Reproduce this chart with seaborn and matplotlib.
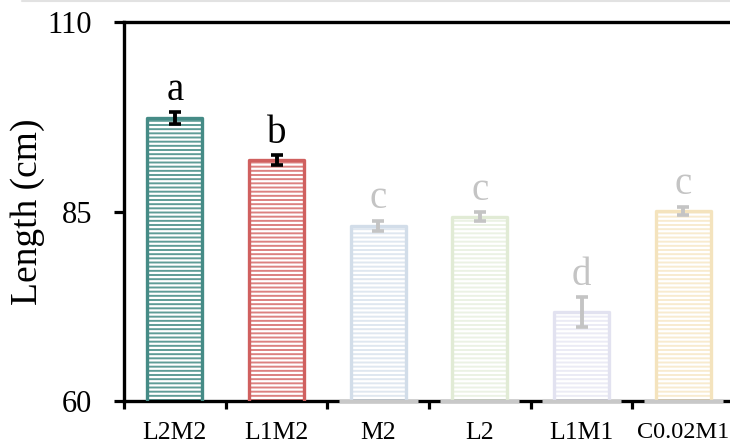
import matplotlib
matplotlib.use("Agg")
import matplotlib.pyplot as plt
import seaborn as sns
import numpy as np
from matplotlib.lines import Line2D

# ---- data ----
categories = ["L2M2", "L1M2", "M2", "L2", "L1M1", "C0.02M1"]
lengths = [97.3, 91.8, 83.1, 84.3, 71.7, 85.1]
errors = [0.8, 0.6, 0.7, 0.6, 2.0, 0.5]
letters = ["a", "b", "c", "c", "d", "c"]
y_ticks = [60, 85, 110]

# ---- style ----
edge_colors = ["#458b86", "#d0605f", "#d2dde9", "#e1ebd5", "#e2e2f0", "#f4e3bd"]
face_colors = ["#5f9c97", "#dc8180", "#dfe7f0", "#ebf2e4", "#ebebf5", "#f8ebcf"]
err_colors = ["black", "black", "#c4c4c4", "#c4c4c4", "#c4c4c4", "#c4c4c4"]
letter_colors = ["black", "black", "#c4c4c4", "#c4c4c4", "#c4c4c4", "#c4c4c4"]
faded = [False, False, True, True, True, True]

sns.set_theme(style="white")
plt.rcParams["font.family"] = ["Liberation Serif", "DejaVu Serif"]
plt.rcParams["hatch.linewidth"] = 1.6

fig = plt.figure(figsize=(7.30, 4.46), dpi=100)
ax = fig.add_axes([124 / 730, 45 / 446, 610 / 730, 379 / 446])

bw = 0.54
# filled hatched bars
sns.barplot(x=categories, y=lengths, hue=categories, palette=face_colors,
            legend=False, width=bw, ax=ax, errorbar=None, saturation=1,
            linewidth=0, zorder=2)
for p in ax.patches:
    p.set_hatch("----")
    p.set_edgecolor("white")
    p.set_linewidth(0)
n_fill = len(ax.patches)
# outline bars
sns.barplot(x=categories, y=lengths, hue=categories, palette=edge_colors,
            legend=False, width=bw, ax=ax, errorbar=None, saturation=1,
            fill=False, linewidth=2.4, zorder=3)
for p in ax.patches[n_fill:]:
    p.set_joinstyle("round")

xs = np.arange(len(categories))
for i in range(len(categories)):
    ax.errorbar(xs[i], lengths[i], yerr=errors[i], fmt="none",
                ecolor=err_colors[i], elinewidth=2.8, capsize=4.2,
                capthick=2.6, zorder=4)
    ax.annotate(letters[i], (xs[i], lengths[i] + errors[i]),
                xytext=(0, 9), textcoords="offset points",
                ha="center", va="baseline", fontsize=28,
                color=letter_colors[i])

ax.set_ylim(60, 110)
ax.set_xlim(-0.5, len(categories) - 0.5)
ax.set_yticks(y_ticks)
ax.set_yticklabels([str(t) for t in y_ticks], fontsize=22)
ax.set_xticks(xs)
ax.set_xticklabels(categories, fontsize=18.5)
ax.get_xticklabels()[-1].set_fontsize(17.5)
ax.set_xticks(np.arange(len(categories) + 1) - 0.5, minor=True)
ax.tick_params(axis="x", which="major", length=0, pad=15, colors="black")
ax.tick_params(axis="x", which="minor", length=6, width=2.3, direction="out",
               color="black", bottom=True)
ax.tick_params(axis="y", which="major", length=7, width=2.3, direction="out",
               color="black", left=True, pad=16, labelcolor="black")
ax.set_ylabel("Length (cm)", fontsize=27, color="black", labelpad=2)
ax.set_xlabel("")

for side in ["left", "bottom", "top"]:
    ax.spines[side].set_visible(True)
    ax.spines[side].set_color("black")
    ax.spines[side].set_linewidth(2.4)
ax.spines["right"].set_visible(False)

# faded baseline segments under faded bars
for i in range(len(categories)):
    if faded[i]:
        ax.hlines(60, xs[i] - 0.39, xs[i] + 0.39, color="#c8c8c8",
                  linewidth=2.4, zorder=5, clip_on=False)

# thin light border line at top of figure
fig.add_artist(Line2D([22 / 730, 1.0], [0.997, 0.997], color="#e2e2e2",
                      linewidth=1.5, transform=fig.transFigure))

fig.savefig("out.png", dpi=100)
